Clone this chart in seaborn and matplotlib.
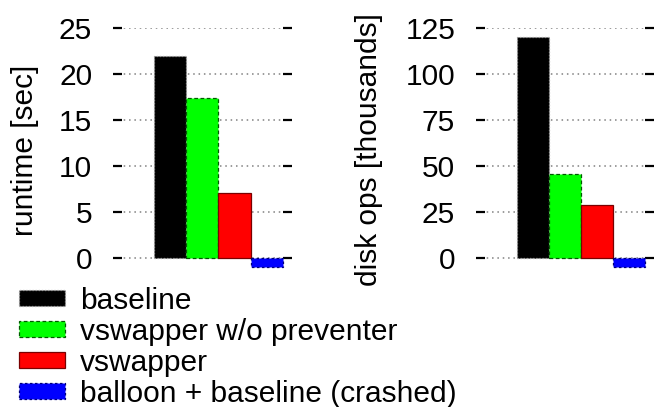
import matplotlib
matplotlib.use("Agg")
import matplotlib.pyplot as plt
import seaborn as sns
import pandas as pd
from matplotlib.patches import Patch

# Configurations compared in both panels
series = ["baseline", "vswapper w/o preventer", "vswapper",
          "balloon + baseline (crashed)"]
runtime_sec = [22.0, 17.4, 7.1, -1.0]
disk_ops_thousands = [120.0, 45.5, 29.0, -5.0]

runtime_ticks = [0, 5, 10, 15, 20, 25]
disk_ops_ticks = [0, 25, 50, 75, 100, 125]

face_colors = ["#000000", "#00ff00", "#ff0000", "#0000ff"]
edge_colors = ["#a0a0a0", "#005a00", "#7a0000", "#00007a"]
edge_styles = [(0, (1, 1.5)), (0, (3, 2)), "-", (0, (2, 2))]

FS = 21.5

sns.set_theme(style="white")
plt.rcParams["font.family"] = ["Liberation Sans", "DejaVu Sans"]
plt.rcParams.update({
    "text.color": "black",
    "axes.labelcolor": "black",
    "xtick.color": "black",
    "ytick.color": "black",
})

df = pd.DataFrame({"series": series,
                   "runtime": runtime_sec,
                   "disk_ops": disk_ops_thousands})

W, H = 654, 407
fig = plt.figure(figsize=(W / 100, H / 100), dpi=100)
ax_h = 243.8 / H
ax_b = (H - 271.8) / H
ax1 = fig.add_axes([113 / W, ax_b, 179 / W, ax_h])
ax2 = fig.add_axes([476 / W, ax_b, 178 / W, ax_h])

panels = [
    (ax1, "runtime", (-1.5, 25), runtime_ticks, "runtime [sec]", -0.492),
    (ax2, "disk_ops", (-7.5, 125), disk_ops_ticks, "disk ops [thousands]", -0.60),
]

for ax, col, ylim, ticks, ylabel, label_x in panels:
    sns.barplot(data=df, x="series", y=col, hue="series",
                palette=face_colors, width=1.0, saturation=1,
                legend=False, ax=ax, zorder=2)
    for patch, ec, ls in zip(ax.patches, edge_colors, edge_styles):
        patch.set_edgecolor(ec)
        patch.set_linestyle(ls)
        patch.set_linewidth(0.9)

    ax.set_xlim(-1.771, 3.779)
    ax.set_ylim(*ylim)
    ax.set_yticks(ticks)
    ax.set_xticks([])
    ax.set_xlabel("")
    ax.set_ylabel(ylabel, fontsize=FS, va="center", color="black")
    ax.yaxis.set_label_coords(label_x, 0.5)

    ax.set_axisbelow(True)
    ax.yaxis.grid(True, linestyle=(0, (1, 2.5)), color="#808080", lw=1.1)
    ax.xaxis.grid(False)
    for sp in ax.spines.values():
        sp.set_visible(False)
    ax.tick_params(axis="y", direction="in", length=6.5, width=1.6,
                   left=True, right=True, labelsize=FS, pad=15,
                   color="black", labelcolor="black")
    ax.set_facecolor("none")

handles = [Patch(facecolor=fc, edgecolor=ec, linestyle=ls, linewidth=0.9,
                 label=name)
           for name, fc, ec, ls in zip(series, face_colors, edge_colors,
                                       edge_styles)]
fig.legend(handles=handles, loc="upper left",
           bbox_to_anchor=(19 / W, (H - 287) / H),
           frameon=False, fontsize=FS, handlelength=1.55, handleheight=0.45,
           handletextpad=0.5, labelspacing=0.1, borderaxespad=0,
           borderpad=0, labelcolor="black")

fig.savefig("out.png", dpi=100)
